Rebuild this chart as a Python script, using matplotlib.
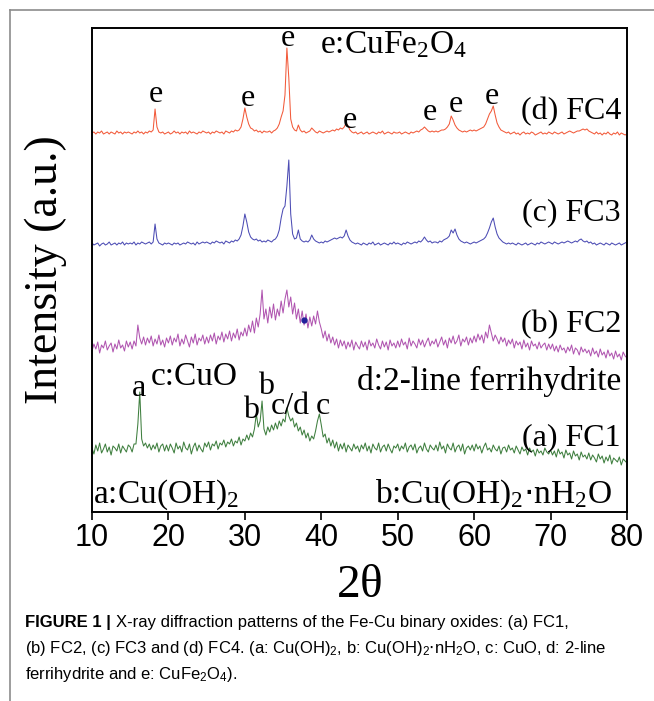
"""XRD patterns of Fe-Cu binary oxides (FC1-FC4), stacked with offsets."""

import numpy as np
import matplotlib.pyplot as plt
from matplotlib.lines import Line2D

# 2-theta grid (deg), 0.25 deg steps from 10 to 80
two_theta = np.arange(10.0, 80.001, 0.25)

# intensities, relative to each trace's baseline (a.u.)
fc4 = [
    0, 1, -1, 1, 0, 2, -1, 0, 1, -1, 1, 0, -1, 2, 0, 1, -1, 1, 0, 1,
    0, -1, 1, 0, 2, 0, 1, -1, 1, 0, 2, 1, 3, 24, 6, 1, 0, 1, -1, 0,
    1, -1, 0, 2, 0, 1, -1, 1, 0, 1, -1, 2, 0, 1, 0, -1, 1, 0, 2, 1,
    0, 1, -1, 1, 0, 2, 1, 0, 1, -1, 2, 1, 0, 2, 1, 3, 2, 3, 6, 14,
    25, 16, 9, 5, 4, 2, 3, 1, 2, 0, 2, 1, 1, 2, 0, 2, 3, 5, 9, 16,
    22, 38, 85, 55, 14, 6, 3, 2, 8, 3, 1, 2, 0, 1, 2, 5, 3, 1, 0, 2,
    1, 0, 1, 2, 1, 2, 3, 2, 4, 3, 5, 4, 6, 10, 7, 3, 1, 0, 1, -1,
    0, 1, -1, 0, 1, -1, 0, 1, 0, -1, 1, 0, 2, -1, 0, 1, 0, -1, 1, 0,
    0, 1, -1, 0, 1, 0, -1, 1, 0, 1, 2, 1, 3, 4, 6, 4, 2, 1, 2, 1,
    2, 1, 2, 3, 3, 4, 6, 9, 17, 13, 8, 5, 3, 2, 1, 2, 1, 2, 3, 2,
    3, 2, 3, 4, 5, 6, 9, 14, 19, 22, 27, 18, 10, 6, 3, 2, 1, 0, 1, -1,
    0, 1, -1, 0, -2, 0, 1, -1, 0, -1, 1, 0, -2, -1, 0, 1, -1, 0, -1, 1,
    0, -1, 1, 0, -1, 0, 1, -1, 0, 1, 2, 1, 0, 1, 2, 2, 3, 4, 3, 4,
    2, 1, 0, -1, 1, -1, 0, -2, 0, -1, 1, -1, -2, 0, -1, 1, -2, 0, -1, -2,
    -1,
]
fc3 = [
    1, -1, 0, 1, -2, 0, 1, -1, 0, 2, -1, 0, 1, -1, 1, 0, 2, -1, 1, 0,
    1, 0, 2, -1, 1, 0, 2, 1, 0, 1, 2, 0, 2, 20, 5, 1, 0, -1, 1, 0,
    1, 0, -1, 1, 0, 1, -1, 0, 1, 0, 2, 1, 0, 1, -1, 2, 0, 1, 2, 1,
    2, 1, 0, 2, 1, 3, 2, 1, 2, 0, 3, 2, 1, 3, 2, 4, 3, 5, 9, 18,
    30, 22, 12, 7, 5, 4, 5, 3, 4, 2, 3, 2, 4, 3, 2, 4, 5, 8, 14, 26,
    35, 38, 58, 84, 30, 10, 5, 6, 14, 5, 3, 2, 3, 2, 4, 9, 5, 3, 2, 1,
    2, 1, 3, 2, 3, 4, 5, 6, 5, 6, 7, 6, 8, 14, 8, 4, 2, 1, 0, 1,
    0, -1, 1, 0, -1, 1, 0, 2, -1, 0, 1, -1, 0, 1, 0, -1, 1, 0, 2, 0,
    1, 0, -1, 1, 0, 2, 1, 0, 1, 2, 1, 3, 2, 4, 7, 4, 2, 3, 1, 2,
    2, 1, 3, 2, 4, 5, 6, 8, 14, 11, 15, 9, 5, 3, 2, 1, 2, 1, 0, 1,
    2, 1, 2, 3, 4, 5, 7, 11, 16, 22, 26, 17, 10, 6, 4, 2, 1, 0, 1, 0,
    1, 0, -1, 1, 0, -1, 0, 1, -1, 0, 1, 0, -1, 1, 0, 2, 1, 0, 1, 2,
    1, 0, 2, 1, 0, 1, 2, 1, 2, 3, 2, 1, 2, 3, 2, 4, 5, 3, 2, 3,
    1, 2, 0, 1, -1, 0, 1, 0, -1, 1, 0, -1, 1, 0, -1, 0, 1, -1, 0, 1,
    2,
]
fc2 = [
    -4, 3, -2, 5, -6, 2, -1, 6, -3, 1, 4, -5, 3, -2, 7, -1, 2, -4, 6, 0,
    5, -2, 6, 1, 22, 9, 3, 10, 2, 9, 4, 11, 1, 8, 3, 12, 2, 7, 0, 9,
    4, 11, 2, 9, 5, 13, 1, 8, 3, 12, 6, 0, 10, 4, 13, 2, 9, 6, 12, 3,
    10, 4, 12, 6, 14, 3, 11, 7, 15, 5, 13, 8, 16, 6, 14, 9, 18, 7, 15, 11,
    19, 11, 22, 15, 26, 14, 29, 20, 33, 57, 28, 38, 24, 40, 29, 43, 27, 38, 31, 46,
    34, 48, 57, 40, 50, 33, 44, 28, 38, 24, 36, 22, 33, 19, 30, 21, 31, 23, 36, 25,
    18, 9, 16, 6, 13, 4, 10, 2, 8, -1, 7, 1, 6, -2, 5, 0, 7, -3, 5, 1,
    -2, 6, 0, 5, -3, 7, 1, 4, -1, 8, 2, -2, 6, 0, 5, -3, 7, 1, 4, -1,
    6, 0, 8, 2, 5, -2, 9, 1, 6, 3, -1, 8, 2, 7, 0, 5, 9, 1, 6, 3,
    8, 0, 5, 10, 2, 7, -1, 9, 4, 11, 3, 6, 12, 1, 8, 5, 10, 2, 9, 4,
    11, 5, 13, 7, 12, 4, 15, 9, 22, 14, 6, 12, 8, 3, 10, 5, 9, 1, 7, 3,
    8, -1, 6, 2, 5, -2, 7, 0, 4, -3, 6, 1, 3, -2, 5, -1, 2, 4, -3, 3,
    -2, 3, -4, 1, -5, 2, -3, -1, -6, 0, -4, 2, -7, -1, -3, -8, 0, -5, -2, -6,
    -3, -9, -1, -7, -4, -10, -2, -8, -5, -11, -3, -9, -6, -12, -4, -10, -7, -13, -5, -9,
    -11,
]
fc1 = [
    1, -5, 4, -2, 6, -4, 0, 5, -3, 2, -6, 3, 1, -2, 5, -4, 3, 0, -3, 4,
    2, -3, 5, 5, 25, 57, 10, 3, 6, 1, 5, -1, 4, 0, 6, -3, 3, 5, -2, 4,
    -2, 5, 1, -4, 6, 0, 3, -3, 7, 1, -1, 5, -5, 2, 6, -2, 4, 0, -3, 6,
    2, 7, -1, 5, 3, 8, 0, 6, 4, 9, 2, 7, 5, 10, 3, 8, 6, 12, 4, 10,
    8, 14, 9, 16, 12, 20, 35, 22, 28, 48, 20, 14, 22, 17, 24, 19, 26, 20, 28, 23,
    30, 27, 41, 33, 28, 31, 22, 26, 18, 22, 14, 19, 11, 16, 8, 13, 10, 18, 28, 35,
    24, 12, 15, 6, 11, 3, 9, 1, 7, -2, 5, 0, 6, -3, 4, 1, -2, 5, 0, 3,
    -3, 4, 0, 6, -2, 3, -4, 5, 1, -1, 6, -3, 2, 4, -2, 5, 0, -4, 3, 1,
    5, -2, 3, 0, 6, -3, 2, 4, -1, 5, -4, 1, 3, -2, 6, 0, -3, 4, 1, -1,
    4, -2, 7, 0, 3, -4, 5, 1, -1, 6, -3, 2, 4, -2, 5, -5, 1, 3, -1, 4,
    -2, 5, 0, 3, -4, 2, 6, -1, 1, -3, 4, 0, -2, 3, -5, 1, 2, -3, 4, -1,
    1, -4, 3, -1, -5, 2, -2, 0, -6, 1, -3, -1, -7, 0, -4, -2, -6, 1, -3, -5,
    -1, -6, -2, -8, 0, -5, -3, -9, -1, -6, -4, -10, -2, -7, -5, -11, -3, -8, -6, -10,
    -4, -11, -6, -9, -13, -5, -10, -7, -14, -8, -12, -6, -15, -9, -11, -13, -8, -16, -10, -12,
    -14,
]

samples = ["(a) FC1", "(b) FC2", "(c) FC3", "(d) FC4"]
offsets = [63, 165, 268, 379]
colors = ["#3f7f3f", "#b055b0", "#4c4cb4", "#f25a3a"]

# marker dot sitting on the FC2 trace
dot_pos = (37.7, 192)

SERIF = "Liberation Serif"
SANS = "Liberation Sans"

fig = plt.figure(figsize=(6.54, 7.01), dpi=100)
ax = fig.add_axes([92 / 654, 1 - 512 / 701, 535 / 654, 484 / 701])

for vals, off, col in zip([fc1, fc2, fc3, fc4], offsets, colors):
    ax.plot(two_theta, np.asarray(vals) + off, color=col, lw=0.75)
ax.plot(*dot_pos, "o", color="#20209a", ms=3.5)

ax.set_xlim(10, 80)
ax.set_ylim(0, 484)
ax.set_xticks(range(10, 81, 10))
ax.set_yticks([])
ax.tick_params(axis="x", direction="out", length=6, width=1.2, pad=2)
for lab in ax.get_xticklabels():
    lab.set_fontfamily(SANS)
    lab.set_fontsize(22)
for sp in ax.spines.values():
    sp.set_linewidth(1.4)

ax.set_xlabel(r"2$\mathregular{\theta}$", family=SERIF, fontsize=34, labelpad=8)
ax.set_ylabel("Intensity (a.u.)", family=SERIF, fontsize=33, labelpad=18)

txt = dict(family=SERIF, fontsize=23, ha="center", va="center")
leg = dict(family=SERIF, fontsize=24, va="center")

# sample names at the right
ax.text(79.2, 400, samples[3], ha="right", va="center", family=SERIF, fontsize=23)
ax.text(79.2, 299, samples[2], ha="right", va="center", family=SERIF, fontsize=23)
ax.text(79.2, 187, samples[1], ha="right", va="center", family=SERIF, fontsize=23)
ax.text(79.2, 74, samples[0], ha="right", va="center", family=SERIF, fontsize=23)

# CuFe2O4 peak marks on FC4
for x, y in [(18.3, 417), (30.4, 414), (35.6, 473), (43.8, 392),
             (54.2, 400), (57.6, 407), (62.3, 416)]:
    ax.text(x, y, "e", **txt)
ax.text(39.8, 467, r"e:CuFe$\mathregular{_2}$O$\mathregular{_4}$", ha="left", **leg)

# FC1 peak marks and phase legend
ax.text(16.2, 124, "a", **txt)
ax.text(30.8, 101, "b", **txt)
ax.text(32.8, 126, "b", **txt)
ax.text(36.0, 106, "c/d", **txt)
ax.text(40.2, 106, "c", **txt)
ax.text(17.7, 135, "c:CuO", ha="left", **leg)
ax.text(79.2, 131, "d:2-line ferrihydrite", ha="right", **leg)
ax.text(10.1, 17, r"a:Cu(OH)$\mathregular{_2}$", ha="left", **leg)
ax.text(78.0, 17, r"b:Cu(OH)$\mathregular{_2}$$\cdot$nH$\mathregular{_2}$O",
        ha="right", **leg)

# journal frame lines (top and left)
fig.add_artist(Line2D([10 / 654, 1], [1 - 10 / 701] * 2, color="#8c8c8c", lw=1.2))
fig.add_artist(Line2D([10 / 654] * 2, [0, 1 - 10 / 701], color="#8c8c8c", lw=1.2))

# caption
cap_x = 25 / 654
cap_size = 12
renderer = fig.canvas.get_renderer()
head = fig.text(cap_x, 1 - 622 / 701, "FIGURE 1 | ", family=SANS, weight="bold",
                fontsize=cap_size, va="center")
bb = head.get_window_extent(renderer)
fig.text(bb.x1 / fig.bbox.width, 1 - 622 / 701,
         "X-ray diffraction patterns of the Fe-Cu binary oxides: (a) FC1,",
         family=SANS, fontsize=cap_size, va="center")
fig.text(cap_x, 1 - 648 / 701,
         r"(b) FC2, (c) FC3 and (d) FC4. (a: Cu(OH)$\mathregular{_2}$, "
         r"b: Cu(OH)$\mathregular{_2}$$\cdot$nH$\mathregular{_2}$O, c: CuO, d: 2-line",
         family=SANS, fontsize=cap_size, va="center")
fig.text(cap_x, 1 - 674 / 701,
         r"ferrihydrite and e: CuFe$\mathregular{_2}$O$\mathregular{_4}$).",
         family=SANS, fontsize=cap_size, va="center")

fig.savefig("out.png", dpi=100)
